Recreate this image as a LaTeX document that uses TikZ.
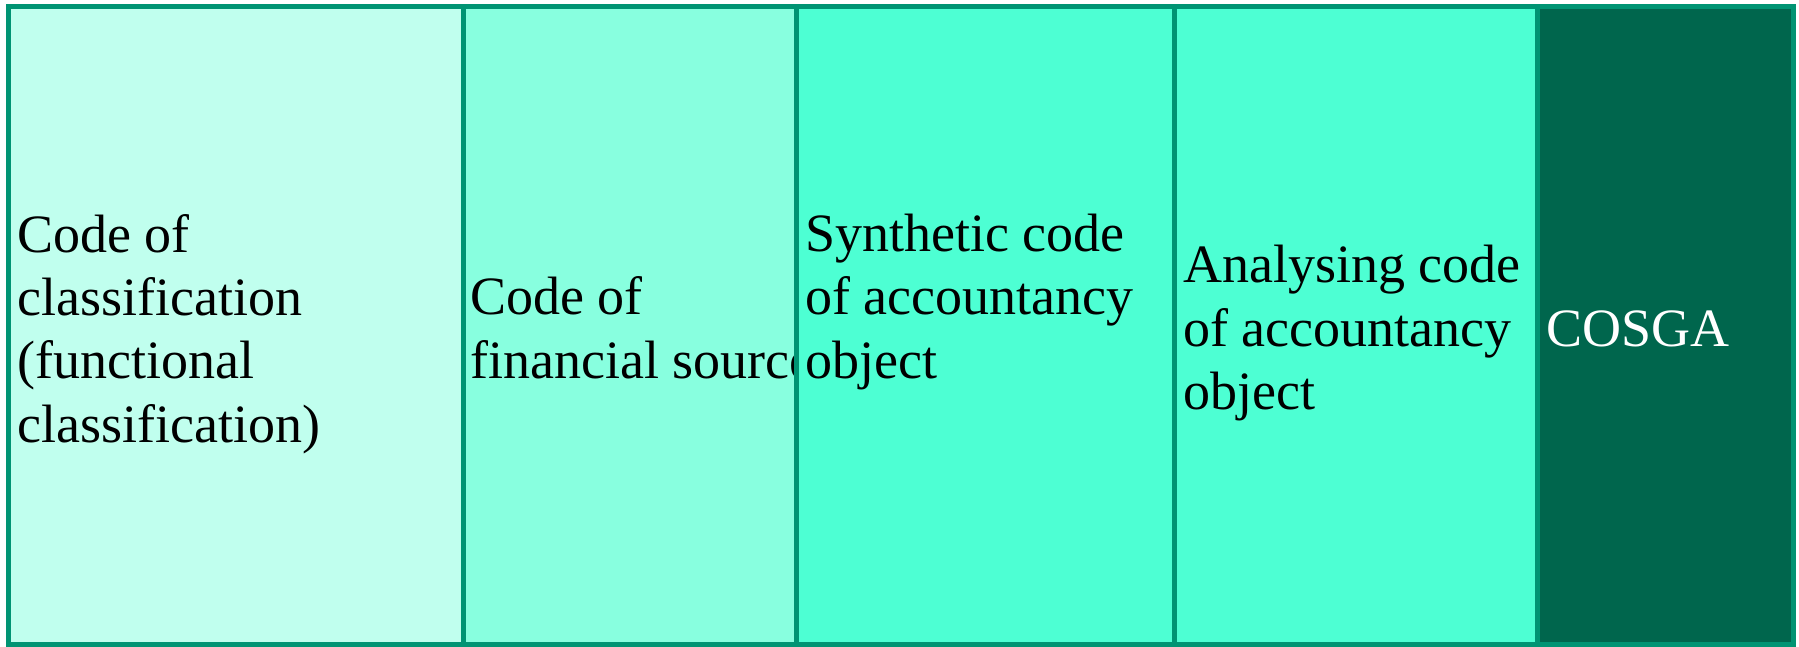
\documentclass[tikz,border=0pt]{standalone}
\usepackage{fontspec}
\setmainfont{Liberation Serif}
\usetikzlibrary{positioning}
\definecolor{frame}{HTML}{009473}
\definecolor{mintpale}{HTML}{C0FFEE}
\definecolor{mintmid}{HTML}{88FFDF}
\definecolor{mintbright}{HTML}{4DFFD3}
\definecolor{mintdark}{HTML}{00664D}

\begin{document}
\begin{tikzpicture}[
	x=0.5pt, y=-0.5pt,
	field/.style={
		rectangle,
		draw=frame,
		line width=2.5pt,
		inner sep=0pt,
		outer sep=0pt,
		minimum height=318.5pt
	},
	caption/.style={
		anchor=base west,
		align=left,
		inner sep=0pt,
		font=\fontsize{27}{31.65}\selectfont
	}
	]
	\useasboundingbox (0,0) rectangle (1799,647);
	
	% code fields, left to right (captions sit on their last baseline)
	\node (classif) [field, fill=mintpale, minimum width=227.25pt, anchor=north west] at (8.5,7) {};
	\node (classif_txt) [caption] at (17,442) {Code of\\classification\\(functional\\classification)};
	
	\node (source) [field, fill=mintmid, minimum width=166.75pt, below right=0pt and 0pt of classif.north east] {};
	\node (source_txt) [caption] at (470,378) {Code of\\financial source};
	
	\node (synthetic) [field, fill=mintbright, minimum width=189pt, below right=0pt and 0pt of source.north east] {};
	\node (synthetic_txt) [caption] at (805,378) {Synthetic code\\of accountancy\\object};
	
	\node (analysing) [field, fill=mintbright, minimum width=181.25pt, below right=0pt and 0pt of synthetic.north east] {};
	\node (analysing_txt) [caption] at (1183,409.5) {Analysing code\\of accountancy\\object};
	
	\node (cosga) [field, fill=mintdark, minimum width=128pt, below right=0pt and 0pt of analysing.north east] {};
	\node (cosga_txt) [caption, text=white] at (1546,346) {COSGA};
	
\end{tikzpicture}
\end{document}
